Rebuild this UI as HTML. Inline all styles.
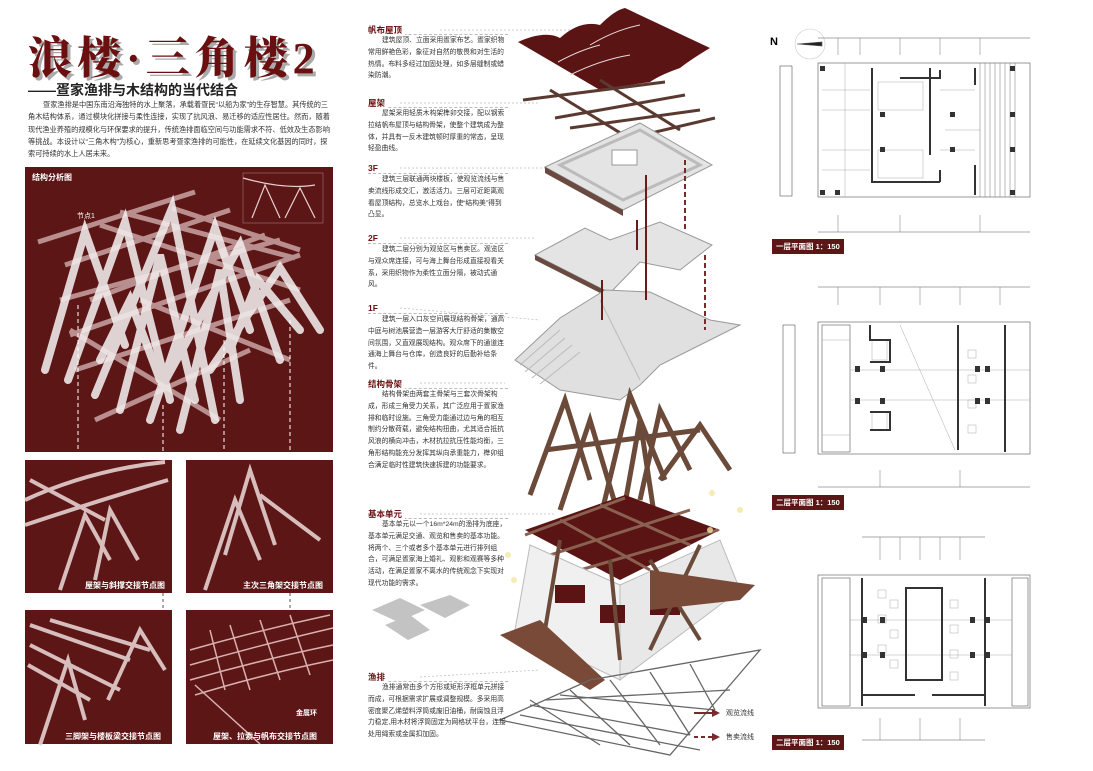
<!DOCTYPE html>
<html><head><meta charset="utf-8">
<style>
*{margin:0;padding:0;box-sizing:border-box}
body{width:1093px;height:771px;background:#fff;position:relative;overflow:hidden;font-family:"Liberation Sans","Noto Sans CJK SC",sans-serif}
.a{position:absolute}
.title{left:28px;top:22px;font-size:44px;font-weight:900;color:#6a1010;letter-spacing:5px;text-shadow:3px 3px 0 #aaa;font-family:"Liberation Serif","Noto Serif CJK SC",serif;white-space:nowrap}
.sub{left:28px;top:80px;font-size:14px;font-weight:bold;color:#222;white-space:nowrap}
.para{left:28px;top:99px;width:303px;font-size:7.2px;line-height:12.3px;color:#333;text-indent:15px}
.h{font-size:8.5px;font-weight:bold;color:#6a1010;left:368px;width:140px;border-bottom:1px dashed #bbb;height:11px}
.h span{background:#fff;padding-right:3px}
.t{left:368px;width:140px;font-size:6.8px;line-height:11.8px;color:#333;text-indent:14px}
.panel{background:#5c1616}
.cap{color:#fff;font-size:8px;font-weight:bold;white-space:nowrap}
.lbl{background:#5c1616;color:#fff;font-size:7.5px;font-weight:bold;padding:2px 4px;white-space:nowrap}
</style></head><body>
<div class="a title">浪楼·三角楼2</div>
<div class="a sub">——疍家渔排与木结构的当代结合</div>
<div class="a para">疍家渔排是中国东南沿海独特的水上聚落，承载着疍民“以船为家”的生存智慧。其传统的三角木结构体系，通过模块化拼接与柔性连接，实现了抗风浪、易迁移的适应性居住。然而，随着现代渔业养殖的规模化与环保要求的提升，传统渔排面临空间与功能需求不符、低效及生态影响等挑战。本设计以“三角木构”为核心，重新思考疍家渔排的可能性，在延续文化基因的同时，探索可持续的水上人居未来。</div>

<div class="a panel" style="left:25px;top:167px;width:308px;height:285px"></div>
<div class="a cap" style="left:32px;top:172px">结构分析图</div>
<div class="a panel" style="left:25px;top:460px;width:147px;height:133px"></div>
<div class="a panel" style="left:186px;top:460px;width:147px;height:133px"></div>
<div class="a panel" style="left:25px;top:610px;width:147px;height:134px"></div>
<div class="a panel" style="left:186px;top:610px;width:147px;height:134px"></div>

<svg class="a" style="left:0;top:0" width="1093" height="771">
<!-- big truss -->
<g stroke="#caa4a4" stroke-width="5" opacity=".85" fill="none">
<line x1="38" y1="242" x2="195" y2="192"/><line x1="65" y1="265" x2="230" y2="210"/><line x1="90" y1="300" x2="265" y2="235"/><line x1="70" y1="335" x2="300" y2="255"/><line x1="75" y1="370" x2="290" y2="300"/><line x1="95" y1="420" x2="250" y2="350"/><line x1="60" y1="300" x2="280" y2="240"/>
<line x1="120" y1="212" x2="295" y2="258"/><line x1="172" y1="208" x2="300" y2="250"/><line x1="100" y1="225" x2="300" y2="290"/><line x1="70" y1="330" x2="220" y2="420"/><line x1="140" y1="300" x2="290" y2="360"/>
</g>
<g stroke="#f2ecec" stroke-width="8" opacity=".88" fill="none" stroke-linecap="round">
<path d="M45 370 L85 232 L125 345"/><path d="M68 380 L125 222 L170 400"/><path d="M95 395 L172 208 L215 420"/>
<path d="M120 410 L160 255 L195 400"/><path d="M150 420 L215 228 L250 330"/><path d="M160 390 L240 245 L280 360"/>
<path d="M210 370 L280 268 L320 330"/><path d="M180 430 L220 270 L240 400"/><path d="M100 360 L130 300 L160 380"/><path d="M230 350 L258 280 L300 330"/>
</g>
<g stroke="#fff" stroke-dasharray="4 3" stroke-width="1"><line x1="78" y1="305" x2="78" y2="460"/><line x1="163" y1="405" x2="163" y2="460"/><line x1="224" y1="340" x2="224" y2="460"/><line x1="290" y1="320" x2="290" y2="460"/></g>
<g stroke="#e8d0d0" stroke-width="1.2" fill="none"><rect x="243" y="173" width="80" height="50" stroke-width=".3"/><path d="M243 178 Q285 190 315 185"/><path d="M252 218 L265 185 L280 218 M285 218 L300 188 L315 218"/></g>
<text x="77" y="218" fill="#fff" font-size="7">节点1</text>
<!-- small panels -->
<g stroke="#e6d0d0" stroke-width="4" fill="none" opacity=".9">
<path d="M25 500 Q90 470 165 462"/><path d="M25 525 Q100 500 168 480"/><line x1="30" y1="480" x2="105" y2="520"/>
<path d="M60 590 L85 515 L110 560"/><path d="M95 580 L110 510 L138 560"/>
<path d="M205 590 L235 500 L260 560"/><path d="M225 555 L250 470 L275 545"/><line x1="260" y1="495" x2="320" y2="540"/>
<line x1="30" y1="625" x2="130" y2="660"/><line x1="30" y1="645" x2="120" y2="690"/><line x1="50" y1="620" x2="150" y2="650"/><line x1="28" y1="665" x2="90" y2="700"/><path d="M40 745 L68 660 L85 720"/><path d="M108 700 L140 630 L165 670"/>
</g>
<g stroke="#d9b0b0" stroke-width="1.5" fill="none"><path d="M190 650 Q260 630 330 615"/><path d="M190 665 Q260 645 333 628"/><path d="M190 680 Q260 660 333 645"/><path d="M195 695 Q260 675 333 660"/><line x1="230" y1="625" x2="250" y2="690"/><line x1="260" y1="620" x2="280" y2="680"/><line x1="290" y1="615" x2="310" y2="675"/><line x1="210" y1="630" x2="225" y2="690"/><line x1="195" y1="685" x2="260" y2="744"/></g>
<g stroke="#555" stroke-dasharray="3 3"><line x1="163" y1="593" x2="163" y2="610"/><line x1="290" y1="593" x2="290" y2="610"/></g>

<!-- center illustration -->
<g stroke="#bbb" stroke-dasharray="2 2" stroke-width=".7"><line x1="440" y1="30" x2="583" y2="30"/><line x1="400" y1="103" x2="540" y2="103"/><line x1="400" y1="168" x2="545" y2="168"/><line x1="400" y1="238" x2="535" y2="238"/><line x1="400" y1="308" x2="540" y2="320"/><line x1="420" y1="383" x2="505" y2="383"/><line x1="420" y1="514" x2="555" y2="514"/><line x1="420" y1="677" x2="540" y2="670"/></g>
<path d="M518 42 Q545 30 560 38 Q580 20 600 25 Q615 10 625 8 L710 48 Q690 60 680 68 Q660 75 650 82 Q630 85 600 90 Z" fill="#5a1414"/>
<g stroke="#e8d8d8" stroke-width="1" fill="none"><path d="M558 62 Q580 50 600 45 M590 45 Q615 30 640 25 M570 75 Q600 60 630 55"/></g>
<g stroke="#5a3a30" stroke-width="3"><line x1="523" y1="100" x2="665" y2="82"/><line x1="555" y1="118" x2="685" y2="95"/><line x1="570" y1="128" x2="700" y2="110"/><line x1="600" y1="145" x2="715" y2="118"/><line x1="550" y1="90" x2="640" y2="145"/><line x1="600" y1="80" x2="680" y2="130"/></g>
<polygon points="545,167 640,123 712,165 623,210" fill="#e4e4e4" stroke="#999"/>
<polygon points="560,165 640,130 700,165 623,200" fill="none" stroke="#bbb" stroke-width="3"/>
<polygon points="545,167 623,210 623,216 545,173" fill="#6a4a40"/>
<rect x="612" y="150" width="25" height="15" fill="#fff" stroke="#999"/>
<polygon points="535,255 585,228 610,240 660,222 712,245 680,270 640,262 610,293" fill="#e4e4e4" stroke="#999"/>
<polygon points="535,255 610,293 610,298 535,260" fill="#6a4a40"/>
<polygon points="515,360 560,318 605,290 650,292 710,320 740,325 700,345 660,365 640,385 620,400 560,390" fill="#e0e0e0" stroke="#999"/>
<g stroke="#bbb" stroke-width="1"><line x1="520" y1="365" x2="560" y2="330"/><line x1="525" y1="372" x2="565" y2="338"/><line x1="532" y1="378" x2="572" y2="345"/><line x1="540" y1="384" x2="580" y2="352"/><line x1="600" y1="300" x2="640" y2="380"/></g>
<g stroke="#6b1a1a" stroke-width="2"><line x1="646" y1="175" x2="646" y2="300"/><line x1="637" y1="220" x2="637" y2="250"/><line x1="602" y1="280" x2="602" y2="320"/></g>
<g stroke="#7a2a2a" stroke-width="2" stroke-dasharray="5 3"><line x1="685" y1="160" x2="685" y2="230"/><line x1="705" y1="255" x2="705" y2="330"/></g>
<g stroke="#6b4a3a" stroke-width="5" fill="none"><path d="M530 495 L565 400 L590 480"/><path d="M560 510 L590 420 L620 520"/><path d="M600 520 L630 395 L665 480"/><path d="M640 500 L660 410 L690 470"/><path d="M660 480 L700 425 L730 470"/><path d="M615 560 L640 420 L655 520"/><line x1="545" y1="450" x2="700" y2="430"/></g>
<polygon points="525,530 625,495 720,530 620,580" fill="#5a1414"/>
<g stroke="#8a6050" stroke-width="3"><line x1="525" y1="535" x2="625" y2="498"/><line x1="550" y1="555" x2="690" y2="510"/><line x1="580" y1="570" x2="718" y2="530"/><line x1="560" y1="520" x2="650" y2="570"/><line x1="600" y1="505" x2="690" y2="545"/></g>
<polygon points="530,545 620,585 620,680 515,630" fill="#f0f0f0" stroke="#bbb"/>
<polygon points="620,585 720,540 740,590 620,680" fill="#e8e8e8" stroke="#bbb"/>
<g fill="#5a1414"><rect x="555" y="585" width="30" height="18"/><rect x="600" y="605" width="25" height="18"/><rect x="650" y="600" width="30" height="15"/><rect x="690" y="585" width="20" height="18"/></g>
<g stroke="#6b4a3a" stroke-width="4"><line x1="560" y1="540" x2="545" y2="630"/><line x1="610" y1="560" x2="620" y2="660"/><line x1="650" y1="560" x2="700" y2="640"/><line x1="700" y1="545" x2="650" y2="650"/></g>
<polygon points="500,635 540,620 605,680 590,690" fill="#7a4a38"/>
<polygon points="650,570 755,585 740,600 650,610" fill="#7a4a38"/>
<g stroke="#666" stroke-width="1.3" fill="none"><polygon points="500,720 590,680 760,650 670,755"/>
<line x1="530" y1="705" x2="690" y2="735" /><line x1="560" y1="695" x2="715" y2="710"/><line x1="545" y1="700" x2="730" y2="690"/><line x1="520" y1="715" x2="700" y2="750"/>
<line x1="530" y1="700" x2="600" y2="745"/><line x1="570" y1="690" x2="630" y2="745"/><line x1="610" y1="680" x2="660" y2="745"/><line x1="650" y1="672" x2="690" y2="735"/><line x1="690" y1="664" x2="715" y2="710"/></g>
<g fill="#f2e8a0" opacity=".8"><circle cx="508" cy="555" r="3"/><circle cx="514" cy="580" r="3"/><circle cx="712" cy="493" r="3"/><circle cx="710" cy="530" r="3"/><circle cx="740" cy="510" r="3"/></g>
<g fill="#aaa" opacity=".7"><polygon points="372,610 400,598 425,610 398,622"/><polygon points="420,605 450,595 470,605 445,618"/><polygon points="385,625 410,615 430,630 408,640"/></g>
<line x1="694" y1="713" x2="718" y2="713" stroke="#7a2a2a" stroke-width="2"/><polygon points="712,709 720,713 712,717" fill="#7a2a2a"/>
<line x1="694" y1="737" x2="718" y2="737" stroke="#7a2a2a" stroke-width="2" stroke-dasharray="4 3"/><polygon points="712,733 720,737 712,741" fill="#7a2a2a"/>

<!-- plans -->
<g stroke="#555" fill="none" stroke-width=".6">
<circle cx="810" cy="44" r="15" stroke="#ccc"/><polygon points="797,44 822,42 822,46" fill="#222"/>
<line x1="818" y1="38" x2="1030" y2="38"/><line x1="818" y1="232" x2="1030" y2="232"/>
<rect x="818" y="63" width="212" height="134"/>
<rect x="780" y="66" width="12" height="130"/>
</g>
<g stroke="#aaa" stroke-width=".5" fill="none"><line x1="822" y1="90" x2="870" y2="90"/><line x1="822" y1="110" x2="870" y2="110"/><line x1="822" y1="150" x2="870" y2="150"/><line x1="822" y1="170" x2="870" y2="170"/><line x1="845" y1="63" x2="845" y2="197"/><rect x="878" y="82" width="45" height="28"/><rect x="878" y="150" width="45" height="28"/><line x1="940" y1="90" x2="975" y2="90"/><line x1="940" y1="150" x2="975" y2="150"/><line x1="945" y1="130" x2="980" y2="130"/></g>
<g stroke="#333" stroke-width="2" fill="none"><polyline points="872,68 872,182 940,182"/><polyline points="940,70 940,78 900,78"/><line x1="940" y1="182" x2="940" y2="170"/><line x1="930" y1="68" x2="930" y2="155"/><line x1="975" y1="68" x2="975" y2="85"/><line x1="975" y1="165" x2="975" y2="195"/></g>
<g stroke="#777" stroke-width=".5"><line x1="990" y1="63" x2="990" y2="197"/><line x1="995" y1="63" x2="995" y2="197"/><line x1="1000" y1="63" x2="1000" y2="197"/><line x1="1005" y1="63" x2="1005" y2="197"/><line x1="1010" y1="63" x2="1010" y2="197"/><line x1="1015" y1="63" x2="1015" y2="197"/><line x1="980" y1="63" x2="980" y2="197"/><line x1="985" y1="63" x2="985" y2="197"/>
<line x1="838" y1="38" x2="838" y2="55"/><line x1="860" y1="38" x2="860" y2="55"/><line x1="900" y1="38" x2="900" y2="55"/><line x1="940" y1="38" x2="940" y2="55"/><line x1="980" y1="38" x2="980" y2="55"/>
<line x1="838" y1="215" x2="838" y2="232"/><line x1="900" y1="215" x2="900" y2="232"/><line x1="980" y1="215" x2="980" y2="232"/></g>
<g fill="#333"><rect x="820" y="66" width="5" height="5"/><rect x="1010" y="66" width="5" height="5"/><rect x="880" y="112" width="5" height="5"/><rect x="880" y="147" width="5" height="5"/><rect x="1010" y="112" width="5" height="5"/><rect x="1010" y="147" width="5" height="5"/><rect x="1010" y="190" width="5" height="5"/><rect x="820" y="190" width="5" height="5"/><rect x="835" y="190" width="5" height="5"/><rect x="950" y="112" width="5" height="5"/><rect x="950" y="147" width="5" height="5"/></g>

<g stroke="#555" fill="none" stroke-width=".6"><line x1="818" y1="287" x2="1030" y2="287"/><line x1="818" y1="487" x2="1030" y2="487"/><rect x="818" y="322" width="212" height="132"/><rect x="783" y="325" width="12" height="128"/><rect x="822" y="325" width="28" height="127"/></g>
<g stroke="#aaa" stroke-width=".5" fill="none"><line x1="822" y1="340" x2="850" y2="340"/><line x1="822" y1="435" x2="850" y2="435"/><rect x="872" y="340" width="15" height="20"/><rect x="872" y="412" width="15" height="18"/><line x1="900" y1="325" x2="955" y2="450"/><rect x="968" y="350" width="8" height="8"/><rect x="968" y="375" width="8" height="8"/><rect x="968" y="400" width="8" height="8"/><rect x="968" y="425" width="8" height="8"/><line x1="850" y1="370" x2="1030" y2="370"/><line x1="850" y1="400" x2="1030" y2="400"/></g>
<g stroke="#333" stroke-width="2" fill="none"><polyline points="870,325 870,340 890,340 890,362 870,362"/><polyline points="870,430 890,430 890,412 870,412"/><line x1="958" y1="325" x2="958" y2="450"/><line x1="1005" y1="325" x2="1005" y2="452"/></g>
<g fill="#333"><rect x="855" y="366" width="5" height="6"/><rect x="880" y="366" width="5" height="6"/><rect x="855" y="398" width="5" height="6"/><rect x="880" y="398" width="5" height="6"/><rect x="975" y="366" width="5" height="6"/><rect x="985" y="366" width="5" height="6"/><rect x="975" y="398" width="5" height="6"/><rect x="985" y="398" width="5" height="6"/></g>
<g stroke="#777" stroke-width=".5"><line x1="838" y1="287" x2="838" y2="305"/><line x1="880" y1="287" x2="880" y2="305"/><line x1="920" y1="287" x2="920" y2="305"/><line x1="960" y1="287" x2="960" y2="305"/><line x1="1000" y1="287" x2="1000" y2="305"/><line x1="880" y1="470" x2="880" y2="487"/><line x1="960" y1="470" x2="960" y2="487"/></g>

<g stroke="#555" fill="none" stroke-width=".6"><line x1="862" y1="537" x2="985" y2="537"/><line x1="862" y1="740" x2="985" y2="740"/><rect x="818" y="575" width="212" height="133"/><rect x="822" y="578" width="28" height="128"/><rect x="1012" y="578" width="16" height="128"/></g>
<g stroke="#aaa" stroke-width=".5" fill="none"><rect x="878" y="590" width="8" height="8"/><rect x="890" y="600" width="8" height="8"/><rect x="878" y="615" width="8" height="8"/><rect x="890" y="630" width="8" height="8"/><rect x="878" y="645" width="8" height="8"/><rect x="890" y="660" width="8" height="8"/><rect x="950" y="600" width="8" height="8"/><rect x="950" y="625" width="8" height="8"/><rect x="950" y="650" width="8" height="8"/><rect x="950" y="672" width="8" height="8"/><line x1="850" y1="620" x2="1012" y2="620"/><line x1="850" y1="655" x2="1012" y2="655"/></g>
<g stroke="#333" stroke-width="2" fill="none"><rect x="906" y="588" width="36" height="92"/><line x1="862" y1="578" x2="862" y2="706"/><line x1="985" y1="578" x2="985" y2="706"/><line x1="862" y1="695" x2="915" y2="695"/><line x1="932" y1="695" x2="985" y2="695"/></g>
<g fill="#333"><rect x="862" y="617" width="5" height="6"/><rect x="880" y="617" width="5" height="6"/><rect x="862" y="652" width="5" height="6"/><rect x="880" y="652" width="5" height="6"/><rect x="970" y="617" width="5" height="6"/><rect x="985" y="617" width="5" height="6"/><rect x="970" y="652" width="5" height="6"/><rect x="985" y="652" width="5" height="6"/></g>
<g stroke="#777" stroke-width=".5"><line x1="880" y1="537" x2="880" y2="560"/><line x1="900" y1="537" x2="900" y2="560"/><line x1="920" y1="537" x2="920" y2="560"/><line x1="940" y1="537" x2="940" y2="560"/><line x1="960" y1="537" x2="960" y2="560"/><line x1="880" y1="718" x2="880" y2="740"/><line x1="920" y1="718" x2="920" y2="740"/><line x1="960" y1="718" x2="960" y2="740"/></g>
</svg>

<div class="a" style="left:770px;top:36px;font-size:11px;font-weight:bold">N</div>
<div class="a lbl" style="left:772px;top:239px">一层平面图 1：150</div>
<div class="a lbl" style="left:772px;top:495px">二层平面图 1：150</div>
<div class="a lbl" style="left:772px;top:735px">二层平面图 1：150</div>
<div class="a" style="left:726px;top:708px;font-size:7px;color:#333">观览流线</div>
<div class="a" style="left:726px;top:732px;font-size:7px;color:#333">售卖流线</div>

<div class="a cap" style="left:85px;top:580px">屋架与斜撑交接节点图</div>
<div class="a cap" style="left:243px;top:580px">主次三角架交接节点图</div>
<div class="a cap" style="left:65px;top:731px">三脚架与楼板梁交接节点图</div>
<div class="a cap" style="left:213px;top:731px">屋架、拉索与帆布交接节点图</div>
<div class="a cap" style="left:296px;top:708px;font-size:7px">金属环</div>

<div class="a h" style="top:24px"><span>帆布屋顶</span></div>
<div class="a t" style="top:35px">建筑屋顶、立面采用疍家布艺。疍家织物常用鲜艳色彩，象征对自然的敬畏和对生活的热情。布料多经过加固处理，如多层缝制或蜡染防潮。</div>
<div class="a h" style="top:97px"><span>屋架</span></div>
<div class="a t" style="top:108px">屋架采用轻质木构架榫卯交接，配以钢索拉结帆布屋顶与结构骨架，使整个建筑成为整体，并具有一反木建筑顿时厚重的常态，呈现轻盈曲线。</div>
<div class="a h" style="top:163px"><span>3F</span></div>
<div class="a t" style="top:174px">建筑三层联通两块楼板，使观览流线与售卖流线形成交汇，激活活力。三层可近距离观看屋顶结构，总览水上戏台，使“结构美”得到凸显。</div>
<div class="a h" style="top:233px"><span>2F</span></div>
<div class="a t" style="top:244px">建筑二层分别为观览区与售卖区。观览区与观众席连接，可与海上舞台形成直接视看关系，采用织物作为柔性立面分隔，被动式通风。</div>
<div class="a h" style="top:303px"><span>1F</span></div>
<div class="a t" style="top:314px">建筑一层入口灰空间展现结构骨架，通高中庭与树池展营造一层游客大厅舒适的集散空间氛围，又直观展现结构。观众席下的通道连通海上舞台与仓库，创造良好的后勤补给条件。</div>
<div class="a h" style="top:378px"><span>结构骨架</span></div>
<div class="a t" style="top:389px">结构骨架由两套主骨架与三套次骨架构成，形成三角受力关系，其广泛应用于疍家渔排和临时设施。三角受力能通过边与角的相互制约分散荷载，避免结构扭曲，尤其适合抵抗风浪的横向冲击，木材抗拉抗压性能均衡，三角形结构能充分发挥其纵向承重能力，榫卯组合满足临时性建筑快速拆建的功能要求。</div>
<div class="a h" style="top:508px"><span>基本单元</span></div>
<div class="a t" style="top:519px">基本单元以一个16m*24m的渔排为底座，基本单元满足交通、观览和售卖的基本功能。<br>将两个、三个或者多个基本单元进行排列组合，可满足疍家海上婚礼、观影和观赛等多种活动，在满足疍家不离水的传统观念下实现对现代功能的需求。</div>
<div class="a h" style="top:671px"><span>渔排</span></div>
<div class="a t" style="top:682px">渔排通常由多个方形或矩形浮框单元拼接而成，可根据需求扩展或调整规模。多采用高密度聚乙烯塑料浮筒或废旧油桶，耐腐蚀且浮力稳定,用木材将浮筒固定为网格状平台，连接处用绳索或金属扣加固。</div>
</body></html>
